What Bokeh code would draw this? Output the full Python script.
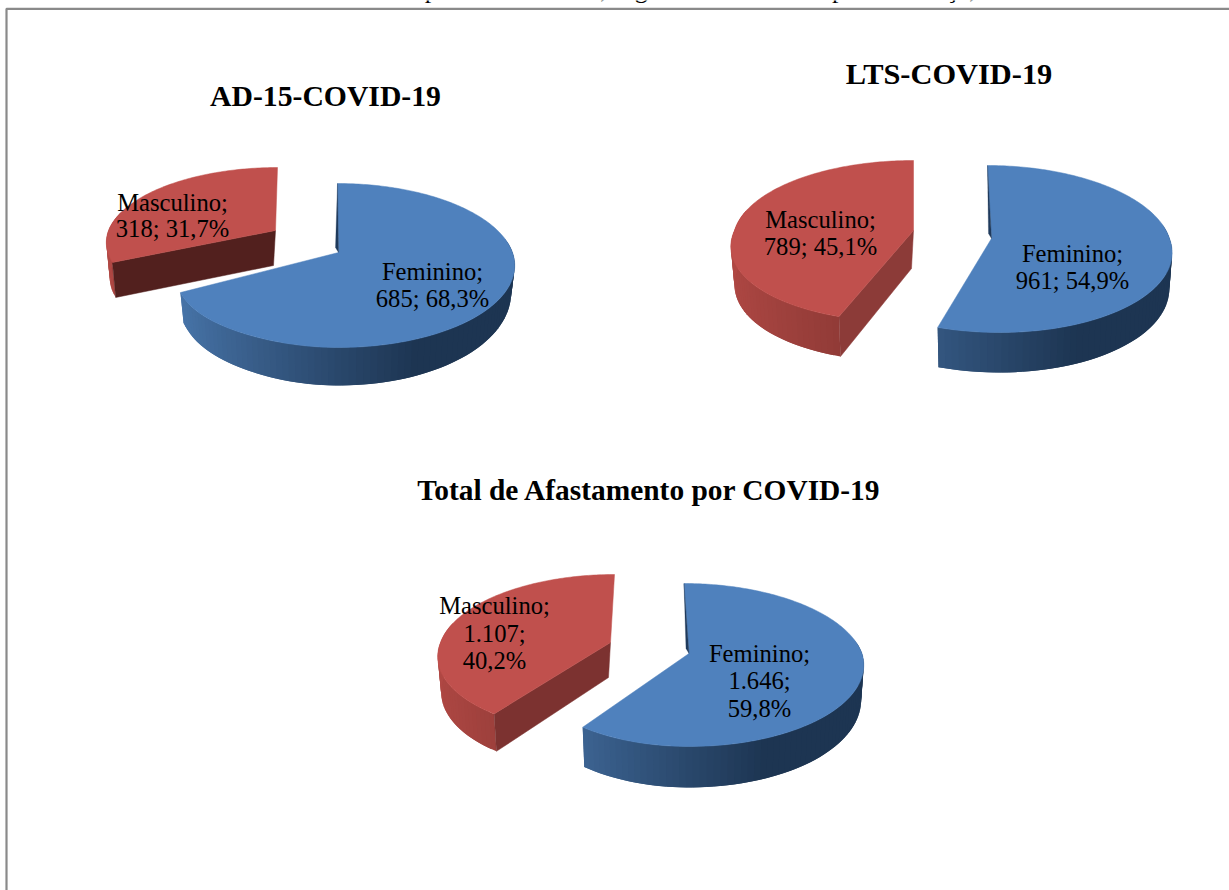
import math
from bokeh.plotting import figure
from bokeh.models import Range1d
from bokeh.core.properties import value
from bokeh.embed import file_html
from bokeh.resources import INLINE

# ---- data
page_heading = "Gráfico 33 – Afastamentos Concedidos por COVID – 19, segundo o sexo e o tipo de licença, 2019."
chart_titles = ["AD-15-COVID-19", "LTS-COVID-19", "Total de Afastamento por COVID-19"]
categories = ["Feminino", "Masculino"]
feminino = [685, 961, 1646]
masculino = [318, 789, 1107]

# ---- styling
W, H = 1229, 890
FONT = "Liberation Serif"
TOP = {"Feminino": "#4f81bd", "Masculino": "#c0504d"}
CUT = [{"Masculino": "#52201e"}, {"Masculino": "#8c3b38"}, {"Masculino": "#7c3230"}]
SLIVER = "#1f3a5c"
TITLE_SIZE = [29.7, 30.4, 29.4]

# ---- layout of each exploded slice (pixels on the page)
GEOM = [
    {"Feminino": dict(ax=338, ay=252, up=69, down=95, rr=174, rl=162, tdx=-1, bdx=0, d0=25, d1=13, s=.98, ey=18),
     "Masculino": dict(ax=275, ay=230, up=63, down=87, rr=167, rl=167, tdx=2, bdx=0, d0=35, d1=0, s=.98, ey=0)},
    {"Feminino": dict(ax=991, ay=238, up=73, down=94, rr=178, rl=178, tdx=-4, bdx=8, d0=35, d1=5, s=.985, ey=0),
     "Masculino": dict(ax=913, ay=230, up=70, down=91, rr=179, rl=179, tdx=0, bdx=-13, d0=38, d1=2, s=.98, ey=0)},
    {"Feminino": dict(ax=688.5, ay=653, up=70, down=93, rr=173, rl=163, tdx=-5, bdx=0, d0=34, d1=7, s=.985, ey=0),
     "Masculino": dict(ax=610, ay=642, up=68, down=90, rr=170, rl=170, tdx=4, bdx=-7, d0=35, d1=3, s=.98, ey=0)},
]
TITLE_POS = [(325, 106), (948.5, 84), (649, 500)]
LABEL_POS = [
    {"Feminino": (432, [280, 307]), "Masculino": (172, [211, 237])},
    {"Feminino": (1072, [262, 289]), "Masculino": (820, [228, 255])},
    {"Feminino": (759, [662, 689, 717]), "Masculino": (494, [614, 642, 669])},
]


def rim(g, deg):
    k = (g["down"] - g["up"]) / (g["down"] + g["up"])
    A = g["up"] * (1 + k)
    t = math.radians(deg)
    u, v = math.sin(t), math.cos(t)
    den = 1 + k * v
    x = g["ax"] + (g["rr"] if u > 0 else g["rl"]) * u / den + (g["tdx"] * v if v > 0 else -g["bdx"] * v)
    y = g["ay"] - A * v / den + g["ey"] * max(0.0, -u) ** 4 * max(0.0, -v)
    return x, y


def low(g, x, y, deg):
    d = g["d0"] + g["d1"] * max(0.0, -math.cos(math.radians(deg)))
    return g["ax"] + (x - g["ax"]) * g["s"], y + d


def mix(c1, c2, f):
    f = max(0.0, min(1.0, f))
    a = [int(c1[i:i + 2], 16) for i in (1, 3, 5)]
    b = [int(c2[i:i + 2], 16) for i in (1, 3, 5)]
    return "#" + "".join(f"{round(p + (q - p) * f):02x}" for p, q in zip(a, b))


def wall_colour(cat, deg):
    u = math.sin(math.radians(deg))
    if cat == "Feminino":
        return mix("#4a78ae", "#1d3552", (u + 1) / 1.4)
    return mix("#b04844", "#853632", u + 1)


def frange(a, b, step):
    n = max(1, int(abs(b - a) / step))
    return [a + (b - a) * i / n for i in range(n + 1)]


def number(n):
    return f"{n:,}".replace(",", ".")


def pct(n, total):
    return f"{100 * n / total:.1f}%".replace(".", ",")


p = figure(width=W, height=H, x_range=Range1d(0, W), y_range=Range1d(H, 0),
           toolbar_location=None, output_backend="svg", min_border=0,
           background_fill_color="white", border_fill_color="white")
p.axis.visible = False
p.grid.visible = False
p.outline_line_color = None

# frame of the pasted picture
p.line([6, 6, W], [H, 8.3, 8.3], line_color="#8a8a8a", line_width=2.2)


def text(x, y, s, size, style="normal", align="center"):
    # the SVG text sits about 0.36 em lower than the requested baseline
    p.text([x], [y - 0.36 * size], text=[s], text_font=value(FONT), text_font_size=f"{size}px",
           text_font_style=style, text_align=align, text_baseline="alphabetic", text_color="#000000")


text(9, -2, page_heading, 26, align="left")

for i, title in enumerate(chart_titles):
    vals = {"Feminino": feminino[i], "Masculino": masculino[i]}
    total = sum(vals.values())
    split = 360 * vals["Feminino"] / total
    spans = {"Feminino": (0.0, split), "Masculino": (split, 360.0)}

    for cat in reversed(categories):
        g = GEOM[i][cat]
        a, b = spans[cat]
        vis = (max(a, 80), b) if cat == "Feminino" else (a, min(b, 285))
        # side wall, drawn as thin shaded strips along the arc; each overlaps the next
        xs, ys, cols = [], [], []
        angles = frange(vis[0], vis[1], 2.0)
        for j, d0 in enumerate(angles[:-1]):
            d1 = angles[min(j + 2, len(angles) - 1)]
            x0, y0 = rim(g, d0)
            x1, y1 = rim(g, d1)
            bx0, by0 = low(g, x0, y0, d0)
            bx1, by1 = low(g, x1, y1, d1)
            xs.append([x0, x1, bx1, bx0])
            ys.append([y0, y1, by1, by0])
            cols.append(wall_colour(cat, d0))
        p.patches(xs, ys, fill_color=cols, line_color=None)

        # cut face
        if cat in CUT[i]:
            cx, cy = rim(g, a)
            bx, by = low(g, cx, cy, a)
            p.patch([g["ax"], cx, bx, g["ax"] - 2], [g["ay"], cy, by, g["ay"] + g["d0"]],
                    fill_color=CUT[i][cat], line_color=CUT[i][cat], line_width=0.5)

        # top face
        arc = [rim(g, t) for t in frange(a, b, 1.0)]
        p.patch([g["ax"]] + [q[0] for q in arc], [g["ay"]] + [q[1] for q in arc],
                fill_color=TOP[cat], line_color=TOP[cat], line_width=0.5)

        # narrow dark inner wall beside the first edge of the blue slice
        if cat == "Feminino":
            tx, ty = rim(g, 0)
            p.patch([tx, g["ax"], g["ax"] - 3], [ty, g["ay"], g["ay"] - 5],
                    fill_color=SLIVER, line_color=SLIVER, line_width=0.3)

    # labels
    for cat in categories:
        n = vals[cat]
        lx, lys = LABEL_POS[i][cat]
        if len(lys) == 2:
            lines = [f"{cat};", f"{number(n)}; {pct(n, total)}"]
        else:
            lines = [f"{cat};", f"{number(n)};", pct(n, total)]
        for ly, s in zip(lys, lines):
            text(lx, ly, s, 24.6)

    tx, ty = TITLE_POS[i]
    text(tx, ty, title, TITLE_SIZE[i], style="bold")

open("out.html", "w").write(file_html(p, INLINE))
